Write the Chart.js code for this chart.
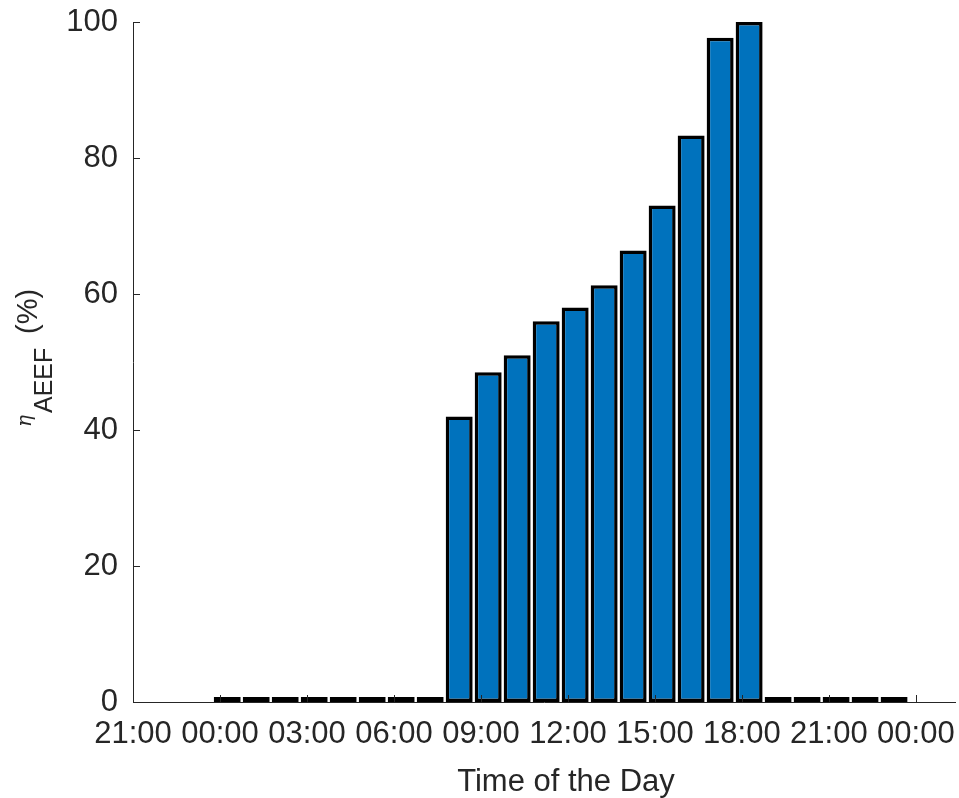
<!DOCTYPE html>
<html>
<head>
<meta charset="utf-8">
<script src="https://cdn.jsdelivr.net/npm/chart.js@4"></script>
<style>
  body { margin: 0; background: #fff; }
  canvas { display: block; }
</style>
</head>
<body>
<canvas id="aeefChart" width="959" height="798"></canvas>
<script>
// Hourly AEEF efficiency bars over a day (times are bar centres)
const times = [
  "00:15", "01:15", "02:15", "03:15", "04:15", "05:15", "06:15", "07:15",
  "08:15", "09:15", "10:15", "11:15", "12:15", "13:15", "14:15", "15:15",
  "16:15", "17:15", "18:15", "19:15", "20:15", "21:15", "22:15", "23:15"
];
const aeefValues = [
  0, 0, 0, 0, 0, 0, 0, 0,
  42, 48.5, 51, 56, 58, 61.3, 66.4, 73,
  83.3, 97.7, 100, 0, 0, 0, 0, 0
];
const xTickHours = [-3, 0, 3, 6, 9, 12, 15, 18, 21, 24];
const xTickLabels = ["21:00", "00:00", "03:00", "06:00", "09:00", "12:00", "15:00", "18:00", "21:00", "00:00"];
const yTicks = [0, 20, 40, 60, 80, 100];

const axisColor = "#262626";
const tickFont = { family: "'Liberation Sans', Arial, sans-serif", size: 31 };

function toHours(t) {
  const [h, m] = t.split(":").map(Number);
  return h + m / 60;
}

// ticks pointing inwards + custom axis titles (subscript in y title)
const matlabAxes = {
  id: "matlabAxes",
  afterDatasetsDraw(chart) {
    const { ctx, chartArea, scales } = chart;
    const x = scales.x, y = scales.y;
    ctx.save();
    ctx.strokeStyle = axisColor;
    ctx.lineWidth = 1;
    ctx.beginPath();
    x.ticks.forEach(t => {
      const px = Math.round(x.getPixelForValue(t.value)) + 0.5;
      ctx.moveTo(px, chartArea.bottom);
      ctx.lineTo(px, chartArea.bottom - 7);
    });
    y.ticks.forEach(t => {
      const py = Math.round(y.getPixelForValue(t.value)) + 0.5;
      ctx.moveTo(chartArea.left, py);
      ctx.lineTo(chartArea.left + 7, py);
    });
    ctx.stroke();

    ctx.fillStyle = axisColor;
    ctx.textBaseline = "alphabetic";
    ctx.textAlign = "center";
    ctx.font = "31px 'Liberation Sans', Arial, sans-serif";
    ctx.fillText("Time of the Day", 566, 791);

    ctx.rotate(-Math.PI / 2);
    ctx.textAlign = "left";
    ctx.font = "italic 20px 'DejaVu Serif', serif";
    ctx.fillText("η", -427, 31);
    ctx.font = "25px 'Liberation Sans', Arial, sans-serif";
    ctx.fillText("AEEF", -413, 52);
    ctx.font = "29px 'Liberation Sans', Arial, sans-serif";
    ctx.fillText("(%)", -334, 37);
    ctx.restore();
  }
};

new Chart(document.getElementById("aeefChart"), {
  type: "bar",
  data: {
    datasets: [
      {
        data: times.map((t, i) => ({ x: toHours(t), y: aeefValues[i] })),
        backgroundColor: "#0072BD",
        borderColor: "#000000",
        borderWidth: 3.5,
        borderSkipped: false,
        minBarLength: 5,
        categoryPercentage: 1,
        barPercentage: 0.93,
      },
    ],
  },
  options: {
    responsive: false,
    animation: false,
    layout: { padding: { top: 22, right: 4, left: 0, bottom: 0 } },
    plugins: {
      legend: { display: false },
      tooltip: { enabled: false },
    },
    scales: {
      x: {
        type: "linear",
        min: -3,
        max: 25.35,
        offset: false,
        grid: { display: false, drawTicks: false, offset: false },
        border: { display: true, color: axisColor, width: 1 },
        afterBuildTicks: function (scale) {
          scale.ticks = xTickHours.map(v => ({ value: v }));
        },
        afterFit: function (scale) {
          scale.height = 96;
          scale.paddingLeft = 0;
          scale.paddingRight = 0;
        },
        ticks: {
          autoSkip: false,
          maxRotation: 0,
          padding: 14,
          color: axisColor,
          font: tickFont,
          callback: function (value) {
            const i = xTickHours.indexOf(value);
            return i >= 0 ? xTickLabels[i] : "";
          },
        },
      },
      y: {
        min: 0,
        max: 100,
        grid: { display: false, drawTicks: false },
        border: { display: true, color: axisColor, width: 1 },
        afterBuildTicks: function (scale) {
          scale.ticks = yTicks.map(v => ({ value: v }));
        },
        afterFit: function (scale) {
          scale.width = 133;
          scale.paddingTop = 0;
          scale.paddingBottom = 0;
        },
        ticks: {
          padding: 15,
          color: axisColor,
          font: tickFont,
        },
      },
    },
  },
  plugins: [matlabAxes],
});
</script>
</body>
</html>
